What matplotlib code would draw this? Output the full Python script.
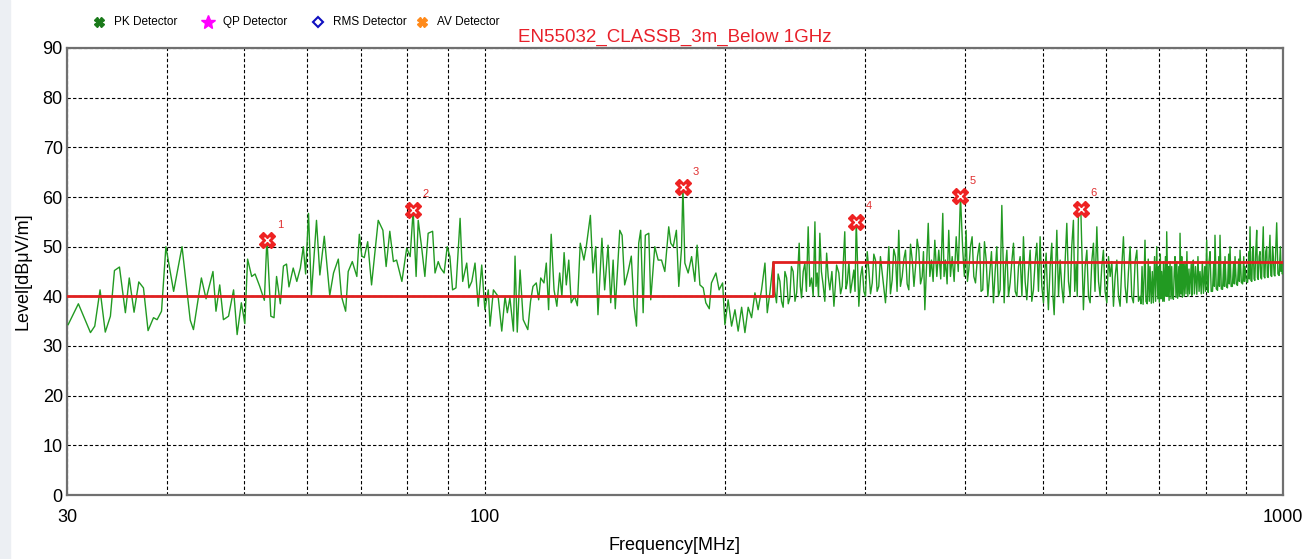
import numpy as np
import matplotlib.pyplot as plt
from matplotlib.patches import Rectangle
from matplotlib.ticker import FixedLocator, NullFormatter

plt.rcParams['font.family'] = ['Liberation Sans', 'DejaVu Sans']

# peak detector sweep: (MHz, dBuV/m)
sweep_30_112 = [
    (30.1, 34.3), (31.0, 38.5), (32.1, 32.7), (32.5, 34.0), (33.0, 41.3), (33.5, 32.8),
    (34.0, 36.0), (34.4, 45.2), (34.9, 45.9), (35.5, 36.7), (35.9, 43.7), (36.4, 36.8),
    (36.9, 42.9), (37.4, 41.7), (37.9, 33.1), (38.5, 35.7), (38.9, 35.3), (39.4, 37.0),
    (39.9, 50.0), (40.8, 41.0), (41.8, 50.0), (42.8, 35.2), (43.2, 33.3), (44.2, 43.7),
    (44.8, 39.5), (45.7, 45.0), (46.1, 37.0), (46.6, 42.3), (47.1, 35.3), (47.8, 36.0),
    (48.5, 41.3), (49.0, 32.3), (49.6, 38.7), (50.1, 34.5), (50.5, 47.5), (51.1, 44.0),
    (51.6, 44.5), (52.3, 42.0), (53.0, 39.2), (53.4, 51.7), (54.0, 36.0), (54.5, 35.7),
    (54.9, 44.0), (55.5, 38.5), (56.0, 46.1), (56.5, 46.5), (56.9, 41.9), (57.6, 45.7),
    (58.2, 43.0), (58.8, 45.7), (59.3, 50.0), (59.7, 44.5), (60.2, 56.7), (60.7, 40.2),
    (61.6, 55.3), (62.2, 44.3), (63.0, 52.1), (64.0, 40.2), (64.7, 44.7), (65.6, 47.5),
    (66.2, 40.0), (67.0, 37.0), (67.5, 45.0), (68.3, 47.0), (69.2, 44.0), (69.7, 52.5),
    (70.2, 48.1), (70.7, 47.8), (71.4, 51.0), (72.2, 42.3), (73.6, 55.3), (74.6, 53.3),
    (75.3, 46.0), (76.1, 53.1), (76.9, 47.0), (77.6, 47.3), (78.8, 43.0), (79.9, 49.7),
    (80.7, 48.0), (81.4, 57.3), (82.1, 44.0), (82.6, 55.3), (83.4, 50.0), (84.2, 44.0),
    (85.0, 52.7), (86.1, 53.1), (86.7, 44.7), (87.5, 47.0), (88.1, 45.7), (89.0, 44.7),
    (89.8, 50.0), (90.5, 48.0), (91.2, 41.3), (92.1, 41.7), (93.2, 55.7), (93.9, 43.0),
    (95.0, 46.7), (95.6, 41.7), (96.4, 43.0), (97.3, 46.7), (98.2, 38.0), (99.2, 46.3),
    (100.1, 37.3), (101.1, 41.3), (101.6, 34.0), (102.6, 41.3), (104.0, 40.0),
    (105.1, 33.0), (106.1, 40.0), (106.8, 36.7), (107.6, 39.7), (108.7, 33.0),
    (109.2, 48.1), (109.9, 32.8), (110.8, 45.3), (111.8, 35.3),
]
sweep_113_230 = [
    (113.3, 33.3), (114.2, 39.0), (115.0, 42.0), (116.1, 42.7), (116.9, 39.3), (117.6, 43.7),
    (118.7, 42.7), (119.5, 46.7), (120.3, 37.3), (121.2, 52.5), (122.2, 41.3), (123.2, 38.0),
    (124.2, 44.7), (125.0, 40.0), (125.8, 48.8), (126.6, 42.3), (127.5, 47.3), (128.4, 38.7),
    (129.7, 40.0), (130.7, 38.1), (131.8, 50.7), (133.2, 47.3), (134.1, 50.0), (135.7, 56.3),
    (136.7, 44.7), (137.8, 50.0), (138.7, 36.3), (140.3, 51.7), (141.4, 41.3), (142.8, 50.3),
    (143.9, 38.7), (144.9, 47.3), (145.8, 37.5), (147.7, 53.3), (148.7, 52.3), (149.8, 42.3),
    (151.3, 45.0), (152.7, 48.1), (153.9, 38.0), (155.0, 34.0), (156.0, 50.7), (156.9, 53.3),
    (158.0, 36.7), (159.0, 52.3), (160.6, 52.7), (161.5, 39.3), (163.4, 50.0), (165.0, 47.3),
    (166.6, 47.3), (168.2, 45.0), (170.1, 54.0), (171.1, 50.7), (172.3, 50.0), (173.9, 53.3),
    (175.1, 42.0), (176.5, 49.7), (177.2, 62.3), (178.2, 46.7), (179.9, 44.7), (181.7, 48.0),
    (183.4, 43.0), (184.6, 50.3), (186.1, 42.3), (187.9, 41.7), (189.3, 38.7), (191.2, 37.5),
    (192.4, 42.7), (194.9, 44.7), (196.7, 41.3), (198.7, 42.7), (200.0, 34.3), (201.9, 39.3),
    (203.9, 34.0), (205.9, 37.3), (207.8, 33.0), (209.9, 37.8), (211.9, 32.7), (213.9, 37.8),
    (216.0, 35.7), (218.1, 40.7), (220.1, 37.3), (222.3, 41.3), (224.5, 46.7), (226.0, 36.7),
    (227.7, 40.7), (229.9, 47.0),
]
sweep_230_430 = [
    (231.0, 41.0), (232.1, 38.7), (233.2, 44.5), (234.4, 43.0), (235.5, 39.0), (236.6, 37.8),
    (237.8, 45.0), (239.0, 43.7), (240.1, 38.5), (241.2, 39.7), (242.3, 46.0), (243.5, 45.0),
    (244.8, 39.0), (246.0, 40.7), (247.8, 50.7), (248.6, 42.0), (249.5, 39.7), (250.7, 45.0),
    (251.9, 46.7), (253.0, 41.0), (254.3, 54.0), (255.5, 42.0), (256.8, 43.7), (258.0, 40.0),
    (259.3, 55.0), (260.1, 42.0), (261.0, 44.7), (262.0, 40.0), (263.0, 52.7), (264.2, 45.0),
    (265.5, 42.3), (266.8, 39.0), (268.2, 48.7), (269.4, 44.0), (270.7, 41.3), (272.3, 45.0),
    (273.9, 38.0), (275.0, 42.0), (276.0, 46.3), (277.8, 44.7), (279.2, 40.5), (280.5, 42.0),
    (282.6, 53.0), (283.6, 41.5), (284.6, 42.7), (286.0, 47.0), (287.3, 40.7), (288.7, 43.0),
    (290.1, 45.3), (291.1, 41.0), (292.1, 55.3), (294.3, 38.0), (295.8, 44.0), (297.2, 46.0),
    (298.6, 41.0), (300.0, 40.0), (301.5, 49.0), (302.9, 45.3), (304.4, 40.5), (305.9, 42.7),
    (307.3, 48.5), (308.8, 47.3), (310.2, 41.0), (311.7, 42.0), (313.2, 48.0), (314.8, 44.7),
    (316.3, 41.5), (317.8, 38.7), (319.4, 44.0), (320.9, 50.0), (322.4, 40.5), (324.0, 43.3),
    (325.5, 49.5), (327.1, 48.0), (328.6, 41.0), (330.2, 53.3), (331.8, 42.0), (333.5, 44.0),
    (335.1, 47.5), (336.7, 49.3), (338.3, 42.5), (339.9, 41.3), (341.6, 50.5), (343.3, 47.3),
    (345.0, 42.0), (346.6, 46.0), (348.2, 51.5), (349.9, 49.3), (351.6, 42.5), (353.3, 44.0),
    (354.6, 49.0), (356.0, 37.3), (357.7, 46.0), (359.5, 54.7), (361.2, 44.0), (362.9, 47.3),
    (364.6, 43.0), (366.4, 51.3), (368.5, 44.0), (370.6, 49.3), (372.7, 43.5), (374.9, 56.7),
    (376.3, 44.0), (377.8, 47.3), (379.6, 42.5), (381.4, 53.3), (383.3, 44.0), (385.2, 48.0),
    (387.4, 43.0), (389.7, 52.0), (392.0, 45.0), (394.5, 60.3), (397.1, 49.3), (399.0, 44.0),
    (401.0, 53.3), (402.5, 43.0), (404.1, 45.3), (406.0, 50.0), (408.0, 52.0), (410.0, 44.0),
    (412.0, 42.7), (414.4, 48.0), (416.8, 50.7), (418.7, 41.0), (420.7, 41.3), (422.8, 51.0),
    (424.9, 47.3), (426.9, 40.0), (428.9, 44.0),
]
sweep_430_662 = [
    (431.4, 49.0), (433.9, 38.7), (436.0, 45.0), (438.1, 50.0), (440.2, 40.0), (442.3, 41.3),
    (444.5, 58.3), (447.5, 38.7), (449.2, 46.0), (451.0, 49.3), (453.1, 40.0), (455.3, 42.7),
    (457.5, 47.0), (459.7, 50.7), (462.0, 41.0), (464.2, 40.0), (466.4, 46.0), (468.6, 48.0),
    (471.0, 40.0), (473.1, 52.0), (475.4, 43.0), (477.7, 39.3), (480.0, 45.0), (482.3, 49.3),
    (484.6, 39.0), (486.9, 41.3), (489.3, 47.0), (491.7, 50.7), (494.0, 41.0), (496.4, 52.0),
    (498.8, 42.0), (501.2, 38.7), (503.1, 45.0), (505.1, 48.7), (506.7, 42.0), (508.4, 37.3),
    (510.9, 46.0), (513.4, 50.7), (515.1, 40.0), (516.9, 36.3), (518.9, 45.0), (520.9, 53.3),
    (523.4, 40.0), (525.9, 47.3), (528.4, 42.0), (530.9, 38.7), (533.5, 47.0), (536.1, 54.7),
    (538.7, 43.0), (541.3, 40.0), (543.8, 50.0), (546.4, 55.3), (548.5, 41.0), (550.7, 46.7),
    (552.5, 40.0), (554.4, 56.7), (558.2, 57.5), (562.4, 37.3), (565.2, 46.0), (568.0, 49.3),
    (570.7, 40.0), (573.4, 38.7), (576.1, 47.0), (578.9, 50.7), (581.5, 41.0), (584.6, 54.0),
    (587.4, 43.0), (590.2, 40.0), (593.0, 46.0), (595.8, 49.3), (598.7, 41.0), (601.7, 38.7),
    (604.6, 48.0), (607.5, 44.0), (610.4, 47.0), (613.3, 38.0), (616.3, 44.0), (619.3, 47.3),
    (622.2, 40.0), (625.2, 38.0), (628.2, 46.0), (631.2, 52.0), (634.3, 42.0), (637.4, 38.7),
    (640.4, 45.0), (643.5, 50.0), (646.5, 40.0), (649.6, 38.7), (652.8, 47.0), (656.1, 49.3),
    (659.2, 39.0), (662.3, 40.0),
]
sweep_662_1000 = [
    (664, 38.5), (666, 46), (668, 38.4), (670, 44), (671.7, 51.3), (673.5, 39), (676, 38.5),
    (678, 47.5), (680, 39), (681.5, 46), (684, 38.6), (686, 45), (688, 38.7), (690.5, 48),
    (692.5, 39), (694.8, 50), (697, 39.5), (698.5, 46), (700, 38.8), (702, 48.5), (703.5, 39.5),
    (704.8, 45), (707, 39), (708.5, 47), (710, 39), (712.5, 48), (714, 40), (715.1, 53),
    (717.5, 40), (718.8, 46), (720, 39.2), (722, 47), (724, 39.5), (725.5, 46), (727.2, 40),
    (729, 39.4), (730.8, 45), (732.4, 48), (734.5, 39.8), (736.2, 47), (738, 39.6), (740.5, 46),
    (742, 40), (743.1, 52.7), (745.5, 40.5), (746.8, 48), (748, 39.8), (750.5, 46.5), (752, 40),
    (753.9, 47), (756, 40.5), (758, 49), (760, 40), (762.5, 45.5), (764, 40.5), (766, 44),
    (767.5, 46.5), (769, 40.2), (770.5, 45), (772.1, 47.3), (774.5, 40.5), (777, 46),
    (780, 40.4), (782.5, 48), (785, 41), (787.2, 45), (790, 40.5), (792.5, 47), (795, 40.6),
    (798, 46), (800, 41), (802.5, 51.3), (804.2, 41.5), (806, 40.8), (808, 47), (810.2, 49),
    (813, 41), (816, 41), (819, 47), (820.5, 42), (821.9, 52.3), (825, 41.5), (828, 41.2),
    (831, 48), (832.5, 42), (833.9, 52.3), (837, 41.5), (840, 41.4), (843, 47), (844.5, 42),
    (846, 48), (849, 42), (852, 41.7), (855, 48.5), (856.5, 42.5), (858.3, 50), (861, 42),
    (864, 42), (867.5, 47), (869, 42.5), (870.8, 48), (874, 42.5), (877, 42.2), (880, 47.5),
    (881.8, 43), (883.5, 49.3), (886.8, 42.8), (890, 42.5), (893, 48), (894.5, 43), (896.3, 46),
    (899.5, 43), (903, 42.8), (906, 49), (907.5, 43.5), (909.3, 54), (911.6, 43.2), (914, 43),
    (916, 49), (918, 50), (920, 43.5), (922, 43.2), (924.5, 49), (927, 53.3), (929, 43.8),
    (931, 43.4), (933.5, 48), (935.8, 49), (938, 43.8), (940, 43.5), (942.3, 48.5), (944.7, 54),
    (946.8, 44), (949, 43.7), (951.5, 49), (954.1, 50), (956, 44), (958, 43.8), (960.5, 48),
    (963.1, 52.3), (965.5, 44.2), (968, 44), (970.3, 50), (972.5, 48), (974.8, 44.3),
    (977, 44.1), (979.5, 50), (982, 54.8), (985.5, 44.5), (989, 44.2), (992.5, 50),
    (994.5, 45), (996.3, 46.7), (998, 44.5), (1000, 45),
]

# EN55032 class B 3m limit
limit_freq = [30, 230, 230, 1000]
limit_level = [40, 40, 47, 47]

# final peaks 1..6
peak_freq = [53.4, 81.4, 177.2, 291.9, 393.9, 558.6]
peak_level = [51.3, 57.4, 62.0, 55.0, 60.2, 57.6]
peak_no = ['1', '2', '3', '4', '5', '6']

detectors = ['PK Detector', 'QP Detector', 'RMS Detector', 'AV Detector']

sweep = np.array(sweep_30_112 + sweep_113_230 + sweep_230_430
                 + sweep_430_662 + sweep_662_1000)
freq, level = sweep[:, 0], sweep[:, 1]

W, H = 1306, 559
fig = plt.figure(figsize=(W / 100, H / 100), dpi=100)
fig.patches.append(Rectangle((0, 0), 10 / W, 1, transform=fig.transFigure,
                             color='#eceff3', zorder=0))
ax = fig.add_axes([67 / W, 1 - 495 / H, 1216 / W, 447 / H])

ax.plot(freq, level, color='#229a22', lw=1, zorder=3)
ax.plot(limit_freq, limit_level, color='#e01f1f', lw=2, zorder=4)

ax.plot(peak_freq, peak_level, ls='none', marker='X', ms=11, color='#ee2222',
        mec='#ee2222', zorder=5)
ax.plot(peak_freq, peak_level, ls='none', marker='x', ms=4, color='white',
        mew=1, zorder=6)
for f, v, n in zip(peak_freq, peak_level, peak_no):
    ax.annotate(n, (f, v), xytext=(7, 9), textcoords='offset points',
                color='#e03030', fontsize=8)

ax.set_xscale('log')
ax.set_xlim(30, 1000)
ax.set_ylim(0, 90)
ax.set_xticks([30, 100, 1000])
ax.set_xticklabels(['30', '100', '1000'])
ax.xaxis.set_minor_locator(FixedLocator([40, 50, 60, 70, 80, 90,
                                         200, 300, 400, 500, 600, 700, 800, 900]))
ax.xaxis.set_minor_formatter(NullFormatter())
ax.set_yticks(range(0, 91, 10))
ax.tick_params(which='both', length=0, labelsize=13)
ax.tick_params(axis='x', pad=10)
ax.tick_params(axis='y', pad=3)

ax.grid(True, which='both', color='black', ls=(0, (3, 2)), lw=0.8)
for s in ax.spines.values():
    s.set_color('#707070')
    s.set_linewidth(1.6)

ax.set_xlabel('Frequency[MHz]', fontsize=13, labelpad=8)
ax.set_ylabel('Level[dBμV/m]', fontsize=13, labelpad=8)

fig.text(675 / W, 1 - 37 / H, 'EN55032_CLASSB_3m_Below 1GHz', color='#e8202a',
         fontsize=13.5, ha='center', va='center')

# legend row across the top, laid out by hand like the original
leg_y = 1 - 22 / H
leg_x = [99, 208, 318, 422]
leg_style = [
    dict(marker='X', color='#1a7a1a', ms=7),
    dict(marker='*', color='#ff00ff', ms=10),
    dict(marker='D', mfc='none', mec='#1010c0', mew=1.5, ms=5),
    dict(marker='X', color='#ff8a1a', ms=7),
]
for x, name, st in zip(leg_x, detectors, leg_style):
    fig.add_artist(plt.Line2D([x / W], [leg_y], ls='none', transform=fig.transFigure, **st))
    fig.text((x + 15) / W, leg_y, name, fontsize=8.5, va='center', ha='left')

fig.savefig('out.png', dpi=100, facecolor='white')
